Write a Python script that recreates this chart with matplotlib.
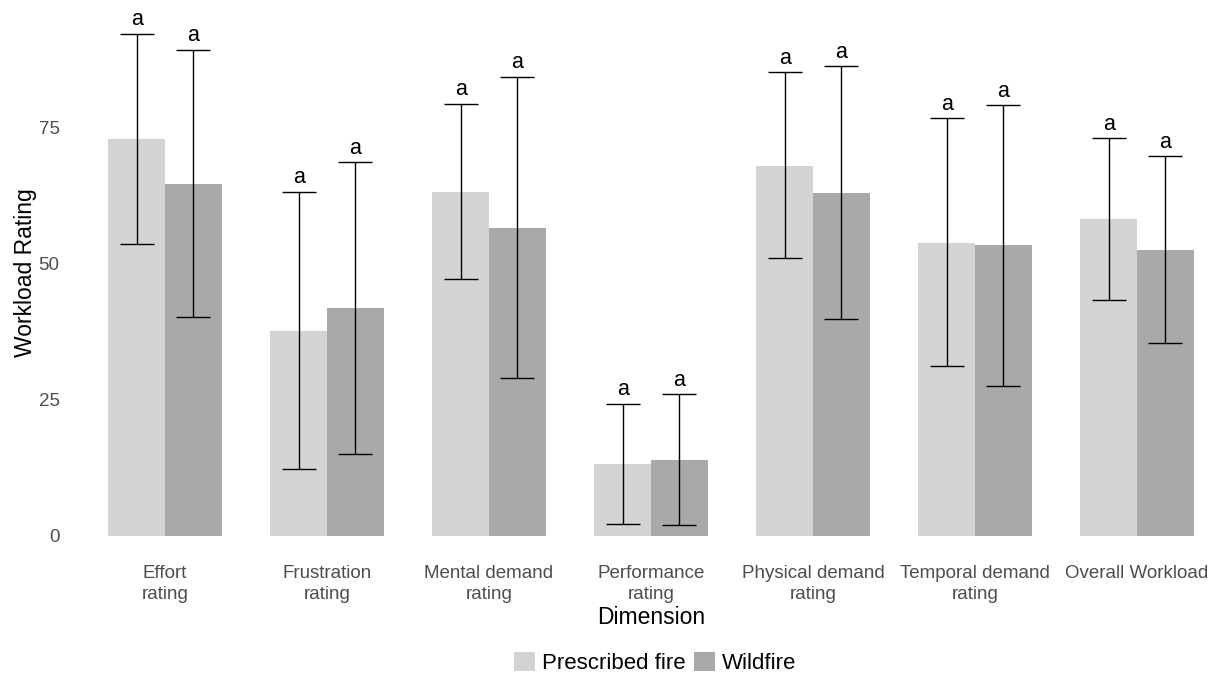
import matplotlib
matplotlib.use("Agg")
import matplotlib.pyplot as plt
import numpy as np
from matplotlib.patches import Patch

plt.rcParams['font.family'] = ['Liberation Sans', 'DejaVu Sans']

categories = ["Effort\nrating", "Frustration\nrating", "Mental demand\nrating",
              "Performance\nrating", "Physical demand\nrating",
              "Temporal demand\nrating", "Overall Workload"]
groups = ["Prescribed fire", "Wildfire"]
prescribed_mean = [72.8, 37.6, 63.1, 13.1, 67.9, 53.8, 58.1]
prescribed_low = [53.5, 12.2, 47.2, 2.2, 50.9, 31.2, 43.3]
prescribed_high = [92.1, 63.1, 79.3, 24.2, 85.1, 76.6, 72.9]
wildfire_mean = [64.6, 41.8, 56.4, 13.9, 62.9, 53.3, 52.4]
wildfire_low = [40.2, 15.1, 28.9, 1.9, 39.8, 27.5, 35.4]
wildfire_high = [89.2, 68.5, 84.2, 26.0, 86.2, 79.0, 69.6]
letters_p = ["a"] * 7
letters_w = ["a"] * 7
yticks = [0, 25, 50, 75]

colors = ["#D3D3D3", "#A9A9A9"]

W, H = 1219, 675
fig = plt.figure(figsize=(W / 100, H / 100), dpi=100)
left, right, top, bottom = 68, 1219, 5, 540
ax = fig.add_axes([left / W, 1 - bottom / H, (right - left) / W, (bottom - top) / H])

x = np.arange(len(categories))
bw = 0.35
means = [prescribed_mean, wildfire_mean]
lows = [prescribed_low, wildfire_low]
highs = [prescribed_high, wildfire_high]
lets = [letters_p, letters_w]
for k in range(2):
    xs = x + (k - 0.5) * bw
    m = np.array(means[k]); lo = np.array(lows[k]); hi = np.array(highs[k])
    ax.bar(xs, m, width=bw, color=colors[k], linewidth=0, zorder=1)
    ax.errorbar(xs, m, yerr=[m - lo, hi - m], fmt='none', ecolor='black',
                elinewidth=1.0, capsize=12.5, capthick=1.0, zorder=2)
    for xi, hv, lt in zip(xs, hi, lets[k]):
        ax.annotate(lt, (xi, hv), xytext=(0, 2.5), textcoords='offset points',
                    ha='center', va='bottom', fontsize=15.5, color='black')

# px mapping: center 0 at px 165, spacing 162 px
ax.set_xlim((left - 165) / 162, (right - 165) / 162)
ax.set_ylim((535.8 - bottom) / 5.45, (535.8 - top) / 5.45)

for s in ax.spines.values():
    s.set_visible(False)
ax.set_yticks(yticks)
ax.set_yticklabels([str(v) for v in yticks], fontsize=13.5, color='#4D4D4D')
ax.set_xticks(x)
ax.set_xticklabels(categories, fontsize=13.5, color='#4D4D4D', linespacing=1.3)
ax.tick_params(axis='both', length=0)
ax.tick_params(axis='x', pad=18)
ax.tick_params(axis='y', pad=6)
ax.set_xlabel("Dimension", fontsize=16.5)
ax.xaxis.set_label_coords((651 - left) / (right - left), (bottom - 606) / (bottom - top))
ax.set_ylabel("Workload Rating", fontsize=16.5, labelpad=1)

handles = [Patch(facecolor=colors[i], edgecolor='none', label=groups[i]) for i in range(2)]
fig.legend(handles=handles, loc='center', bbox_to_anchor=(655 / W, 1 - 663 / H),
           ncol=2, frameon=False, fontsize=16, handlelength=0.95, handleheight=0.95,
           handletextpad=0.3, columnspacing=0.4, borderaxespad=0)

fig.savefig("out.png", dpi=100)
